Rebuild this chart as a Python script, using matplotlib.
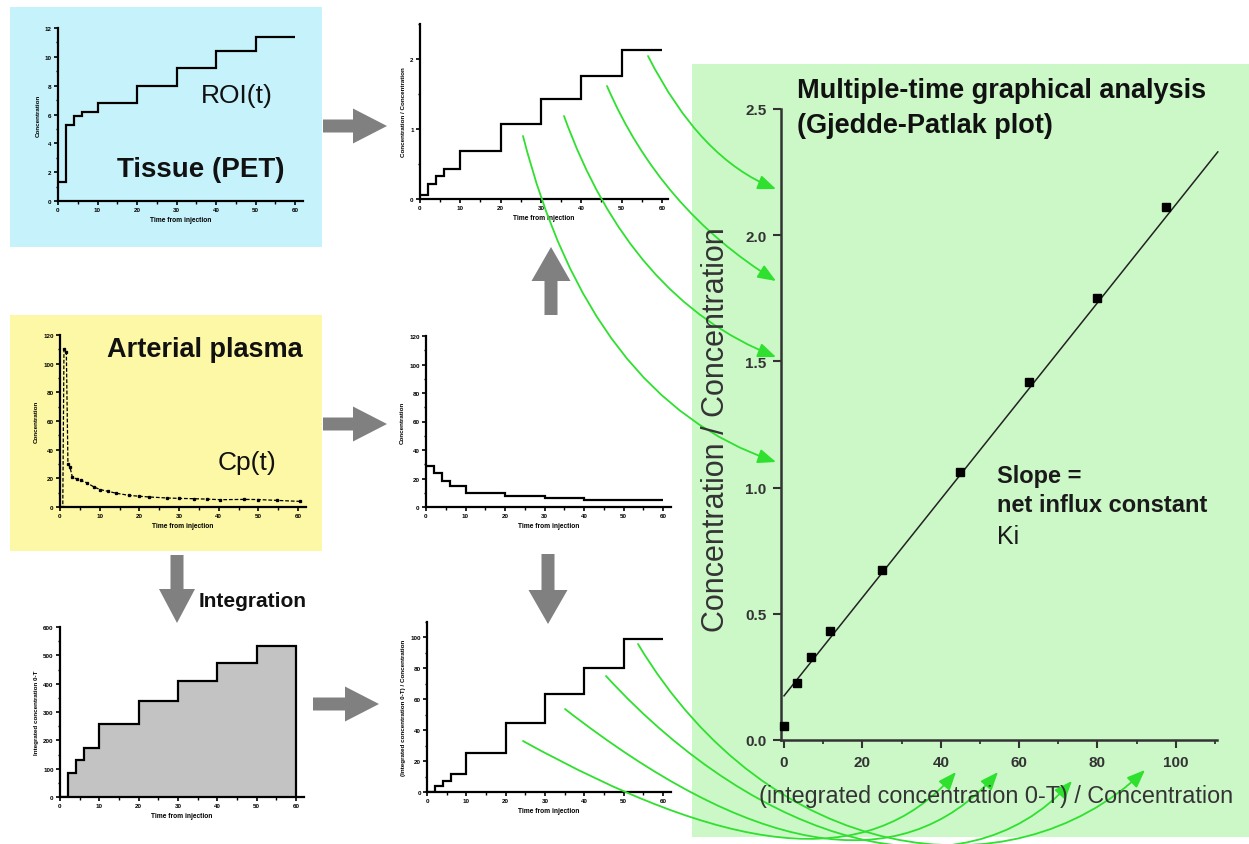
import matplotlib
matplotlib.use('Agg')
import matplotlib.pyplot as plt
from matplotlib.patches import Rectangle, FancyArrow, FancyArrowPatch
from matplotlib.path import Path
from matplotlib.ticker import MultipleLocator, FormatStrFormatter

plt.rcParams['font.family'] = ['Liberation Sans', 'DejaVu Sans']

W, H = 1249, 845

# ---------------- data ----------------
frame_edges = [0, 2, 4, 6, 10, 20, 30, 40, 50, 60]
tissue_roi = [1.3, 5.3, 5.9, 6.2, 6.8, 8.0, 9.2, 10.4, 11.4]
ratio_tissue_plasma = [0.06, 0.21, 0.33, 0.43, 0.69, 1.07, 1.43, 1.76, 2.13]
plasma_frames = [28.5, 24.0, 18.5, 14.5, 10.0, 7.7, 6.3, 4.8, 4.8]
integral_frames = [0, 86, 129, 174, 259, 338, 409, 474, 532]
ratio_int_plasma = [0.3, 3.9, 7.2, 11.5, 25.5, 44.8, 63.5, 80.4, 98.9]

cp_time = [0, 0.7, 1.0, 1.6, 2.0, 2.5, 3.1, 4.2, 5.2, 6.9, 8.6, 10.2, 12.0, 14.0,
           17.4, 20.0, 22.4, 27.0, 30.0, 33.7, 37.0, 40.4, 46.3, 50.0, 54.7, 60.6]
cp_value = [0, 0, 110, 108, 30, 28, 21, 19.5, 18.6, 16.7, 13.9, 12.1, 11.0, 9.7,
            8.1, 7.5, 7.0, 6.3, 6.0, 5.8, 5.5, 5.1, 5.3, 5.2, 4.6, 3.9]

patlak_x = [0, 3.3, 6.8, 11.7, 25.0, 45.0, 62.5, 80.0, 97.5]
patlak_y = [0.055, 0.225, 0.33, 0.43, 0.675, 1.06, 1.42, 1.75, 2.11]
fit_x = [0, 110.7]
fit_y = [0.175, 2.33]

patlak_xticks = [0, 20, 40, 60, 80, 100]
patlak_yticks = [0.0, 0.5, 1.0, 1.5, 2.0, 2.5]

# ---------------- colours ----------------
BLUE = '#c6f3fb'
YELLOW = '#fcf8a6'
GREEN_BG = '#ccf8c8'
GRAY = '#808080'
GREEN = '#2fe02f'

fig = plt.figure(figsize=(W / 100, H / 100), dpi=100)


def px_axes(x0, y0, x1, y1, z=2):
    ax = fig.add_axes([x0 / W, 1 - y1 / H, (x1 - x0) / W, (y1 - y0) / H])
    ax.set_zorder(z)
    ax.patch.set_alpha(0)
    return ax


# background panels
bg = fig.add_axes([0, 0, 1, 1])
bg.set_xlim(0, W)
bg.set_ylim(H, 0)
bg.axis('off')
bg.set_zorder(0)
bg.add_patch(Rectangle((10, 8), 312, 240, color=BLUE, lw=0))
bg.add_patch(Rectangle((10, 316), 312, 236, color=YELLOW, lw=0))
bg.add_patch(Rectangle((692, 65), W - 692, 773, color=GREEN_BG, lw=0))


def style_small(ax, ymax, ymaj, ymin_, ylabel, xmax=62):
    ax.set_xlim(0, xmax)
    ax.set_ylim(0, ymax)
    for s in ['top', 'right']:
        ax.spines[s].set_visible(False)
    for s in ['left', 'bottom']:
        ax.spines[s].set_linewidth(1.6)
    ax.xaxis.set_major_locator(MultipleLocator(10))
    ax.xaxis.set_minor_locator(MultipleLocator(5))
    ax.yaxis.set_major_locator(MultipleLocator(ymaj))
    ax.yaxis.set_minor_locator(MultipleLocator(ymin_))
    ax.tick_params(which='major', length=3, width=1.2, labelsize=4.5, pad=1.5)
    ax.tick_params(which='minor', length=1.8, width=1.0)
    for lab in ax.get_xticklabels() + ax.get_yticklabels():
        lab.set_fontweight('bold')
    ax.set_xlabel('Time from injection', fontsize=4.8, fontweight='bold', labelpad=3)
    ax.set_ylabel(ylabel, fontsize=4.5, fontweight='bold', labelpad=3)


# Tissue ROI
ax1 = px_axes(58, 29, 303, 202)
ax1.stairs(tissue_roi, frame_edges, color='black', lw=1.6, baseline=None)
style_small(ax1, 12, 2, 1, 'Concentration')

# Tissue / plasma ratio
ax2 = px_axes(420, 25, 668, 200)
ax2.stairs(ratio_tissue_plasma, frame_edges, color='black', lw=1.6, baseline=None)
style_small(ax2, 2.5, 1, 0.5, 'Concentration / Concentration', xmax=61.5)

# Arterial plasma Cp(t)
ax3 = px_axes(60, 336, 306, 508)
ax3.plot(cp_time, cp_value, color='black', lw=0.9, ls=(0, (3, 1.5)), marker='s', ms=1.4)
style_small(ax3, 120, 20, 10, 'Concentration')

# Plasma frames
ax4 = px_axes(426, 337, 671, 508)
ax4.stairs(plasma_frames, frame_edges, color='black', lw=1.6, baseline=None)
style_small(ax4, 120, 20, 10, 'Concentration')

# Integrated plasma
ax5 = px_axes(60, 628, 304, 798)
ax5.stairs(integral_frames, frame_edges, fill=True, color='#c3c3c3')
ax5.stairs(integral_frames, frame_edges, color='black', lw=1.6, baseline=0)
style_small(ax5, 600, 100, 50, 'Integrated concentration 0-T')

# Integral / plasma ratio
ax6 = px_axes(427, 623, 671, 793)
ax6.stairs(ratio_int_plasma, frame_edges, color='black', lw=1.6, baseline=None)
style_small(ax6, 110, 20, 10, '(Integrated concentration 0-T) / Concentration')

# ---------------- Patlak plot ----------------
axp = px_axes(781, 110, 1217, 741, z=3)
axp.set_xlim(-0.77, 110.5)
axp.set_ylim(0, 2.5)
for s in ['top', 'right']:
    axp.spines[s].set_visible(False)
for s in ['left', 'bottom']:
    axp.spines[s].set_linewidth(1.8)
    axp.spines[s].set_color('#333333')
axp.set_xticks(patlak_xticks)
axp.xaxis.set_minor_locator(MultipleLocator(10))
axp.set_yticks(patlak_yticks)
axp.yaxis.set_major_formatter(FormatStrFormatter('%.1f'))
axp.tick_params(which='major', length=5.5, width=1.5, color='#333333',
                labelsize=11, labelcolor='#333333', pad=5)
axp.tick_params(which='minor', length=3, width=1.3, color='#333333')
for lab in axp.get_xticklabels() + axp.get_yticklabels():
    lab.set_fontweight('bold')
axp.plot(fit_x, fit_y, color='#222222', lw=1.1, clip_on=False, zorder=2)
axp.plot(patlak_x, patlak_y, 's', color='black', ms=6, clip_on=False, zorder=3)

# ---------------- overlay: arrows and texts ----------------
ov = fig.add_axes([0, 0, 1, 1])
ov.set_xlim(0, W)
ov.set_ylim(H, 0)
ov.axis('off')
ov.set_zorder(10)
ov.patch.set_alpha(0)


def block_arrow(x, y, dx, dy, hw=35):
    ov.add_patch(FancyArrow(x, y, dx, dy, width=13, head_width=hw, head_length=34,
                            length_includes_head=True, color=GRAY, lw=0))


block_arrow(323, 127, 64, 0)
block_arrow(323, 425, 64, 0)
block_arrow(551, 316, 0, -68, hw=39)
block_arrow(548, 555, 0, 70, hw=39)
block_arrow(177, 556, 0, 68, hw=36)
block_arrow(313, 705, 66, 0)

# green connectors (upper group: quadratic, lower group: cubic)
upper = [((648, 57), (700, 160), (776, 190)),
         ((607, 87), (660, 210), (776, 282)),
         ((564, 117), (630, 300), (776, 358)),
         ((523, 137), (590, 400), (776, 463))]
for s, c, e in upper:
    p = Path([s, c, e], [Path.MOVETO, Path.CURVE3, Path.CURVE3])
    ov.add_patch(FancyArrowPatch(path=p, arrowstyle='-|>,head_length=0.55,head_width=0.22',
                                 mutation_scale=20, color=GREEN, lw=1.3))

lower = [((523, 742), (723, 852), (866, 878), (956, 773)),
         ((565, 710), (745, 850), (898, 888), (998, 773)),
         ((606, 677), (760, 845), (962, 905), (1072, 782)),
         ((638, 645), (770, 865), (1010, 900), (1145, 771))]
for s, c1, c2, e in lower:
    p = Path([s, c1, c2, e], [Path.MOVETO, Path.CURVE4, Path.CURVE4, Path.CURVE4])
    ov.add_patch(FancyArrowPatch(path=p, arrowstyle='-|>,head_length=0.55,head_width=0.22',
                                 mutation_scale=20, color=GREEN, lw=1.3))

# texts
ov.text(237, 96, 'ROI(t)', fontsize=19, ha='center', va='center', color='#111111')
ov.text(201, 170, 'Tissue (PET)', fontsize=20, fontweight='bold', ha='center', va='center',
        color='#111111')
ov.text(107, 350, 'Arterial plasma', fontsize=19.5, fontweight='bold', ha='left', va='center',
        color='#111111')
ov.text(247, 463, 'Cp(t)', fontsize=19, ha='center', va='center', color='#111111')
ov.text(199, 602, 'Integration', fontsize=15, fontweight='bold', ha='left', va='center',
        color='#111111')

ov.text(797, 91, 'Multiple-time graphical analysis', fontsize=19.5, fontweight='bold',
        ha='left', va='center', color='#111111')
ov.text(797, 126, '(Gjedde-Patlak plot)', fontsize=19.5, fontweight='bold',
        ha='left', va='center', color='#111111')
ov.text(997, 477, 'Slope =', fontsize=17, fontweight='bold', ha='left', va='center',
        color='#1a1a1a')
ov.text(997, 506, 'net influx constant', fontsize=17, fontweight='bold', ha='left',
        va='center', color='#1a1a1a')
ov.text(997, 537, 'Ki', fontsize=18, ha='left', va='center', color='#1a1a1a')

ov.text(716, 430, 'Concentration / Concentration', fontsize=22, rotation=90,
        ha='center', va='center', color='#333333')
ov.text(996, 797, '(integrated concentration 0-T) / Concentration', fontsize=16.8,
        ha='center', va='center', color='#333333')

fig.savefig('out.png', dpi=100)
